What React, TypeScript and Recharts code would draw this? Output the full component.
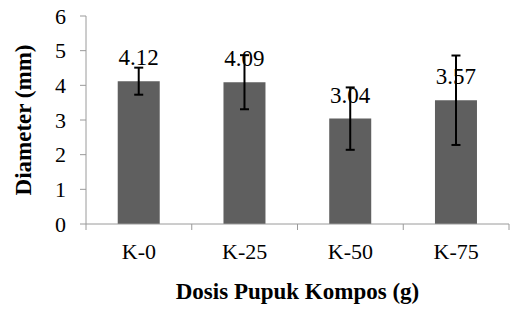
import { BarChart, Bar, XAxis, YAxis, ErrorBar, LabelList } from 'recharts';

const categories = ['K-0', 'K-25', 'K-50', 'K-75'];
const diameter = [4.12, 4.09, 3.04, 3.57];
const stdDev = [0.39, 0.78, 0.9, 1.29];
const yTicks = [0, 1, 2, 3, 4, 5, 6];

const data = categories.map((name, i) => ({
  name,
  value: diameter[i],
  err: stdDev[i],
}));

const FONT = 'Liberation Serif, Times New Roman, serif';
const AXIS = '#9a9a9a';

const W = 510;
const H = 313;
const MARGIN = { top: 16, right: 1, left: 0, bottom: 4 };
const Y_AXIS_W = 86;
const BAND = (W - MARGIN.left - MARGIN.right - Y_AXIS_W) / categories.length;
const TICK_SIZE = 6;
const TICK_MARGIN = 13;

// Excel-style: tick marks sit between categories, not under them
function CategoryTick(props: any) {
  const { x, y, payload, index } = props;
  const axisY = y - TICK_SIZE - TICK_MARGIN;
  const left = x - BAND / 2;
  return (
    <g>
      <line x1={left} x2={left} y1={axisY} y2={axisY + TICK_SIZE} stroke={AXIS} />
      {index === categories.length - 1 && (
        <line x1={x + BAND / 2} x2={x + BAND / 2} y1={axisY} y2={axisY + TICK_SIZE} stroke={AXIS} />
      )}
      <text x={x} y={y} dy="0.71em" textAnchor="middle" fill="#000" style={{ fontFamily: FONT, fontSize: 22 }}>
        {payload.value}
      </text>
    </g>
  );
}

export default function App() {
  return (
    <div style={{ position: 'absolute', left: 0, top: 0, width: W, height: H, background: '#fff', fontFamily: FONT }}>
      <BarChart width={W} height={H} data={data} margin={MARGIN} barCategoryGap="30%">
        <XAxis
          dataKey="name"
          height={85}
          axisLine={{ stroke: AXIS }}
          tickLine={false}
          tickSize={TICK_SIZE}
          tickMargin={TICK_MARGIN}
          tick={<CategoryTick />}
          interval={0}
          label={{
            value: 'Dosis Pupuk Kompos (g)',
            position: 'insideBottom',
            offset: 10,
            style: { fontFamily: FONT, fontWeight: 'bold', fontSize: 23, fill: '#000' },
          }}
        />
        <YAxis
          width={Y_AXIS_W}
          domain={[0, 6]}
          ticks={yTicks}
          interval={0}
          axisLine={{ stroke: AXIS }}
          tickLine={{ stroke: AXIS }}
          tickSize={TICK_SIZE}
          tickMargin={14}
          tick={{ fill: '#000', fontSize: 22, style: { fontFamily: FONT } }}
          label={{
            value: 'Diameter (mm)',
            angle: -90,
            position: 'insideLeft',
            offset: 23,
            style: { textAnchor: 'middle', fontFamily: FONT, fontWeight: 'bold', fontSize: 23, fill: '#000' },
          }}
        />
        <Bar dataKey="value" fill="#5f5f5f" isAnimationActive={false}>
          <LabelList
            dataKey="value"
            position="top"
            offset={16}
            formatter={(v: any) => Number(v).toFixed(2)}
            style={{ fontFamily: FONT, fontSize: 23, fill: '#000' }}
          />
          <ErrorBar dataKey="err" width={4.5} stroke="#000" strokeWidth={2} direction="y" />
        </Bar>
      </BarChart>
    </div>
  );
}
